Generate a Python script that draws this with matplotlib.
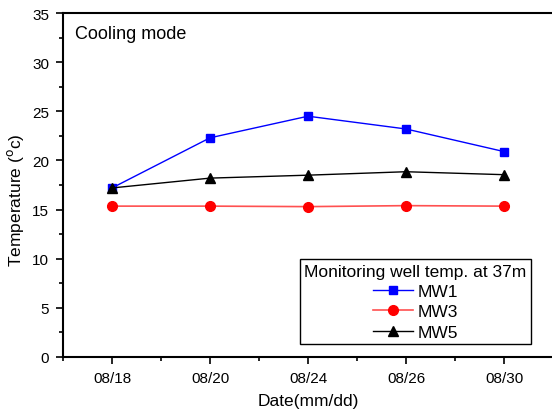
import matplotlib
matplotlib.use("Agg")
import matplotlib.pyplot as plt
from matplotlib.ticker import MultipleLocator

plt.rcParams['font.family'] = ['Liberation Sans', 'DejaVu Sans']

dates = ["08/18", "08/20", "08/24", "08/26", "08/30"]
mw1 = [17.2, 22.3, 24.5, 23.2, 20.9]
mw3 = [15.35, 15.35, 15.3, 15.4, 15.35]
mw5 = [17.2, 18.2, 18.5, 18.85, 18.55]

fig = plt.figure(figsize=(5.52, 4.14), dpi=100)
ax = fig.add_axes([63/552, 56/414, 490/552, 344/414])
x = list(range(len(dates)))
ax.plot(x, mw1, color='#0000ff', lw=1, marker='s', ms=6, label='MW1')
ax.plot(x, mw3, color='#ff5050', lw=1.2, marker='o', ms=7, mfc='#ff0000', mec='#ff0000', label='MW3')
ax.plot(x, mw5, color='black', lw=1, marker='^', ms=7, label='MW5')

ax.set_xlim(-0.5, 4.5)
ax.set_ylim(0, 35)
ax.set_xticks(x)
ax.set_xticklabels(dates)
ax.xaxis.set_minor_locator(MultipleLocator(0.5))
ax.yaxis.set_major_locator(MultipleLocator(5))
ax.yaxis.set_minor_locator(MultipleLocator(2.5))
ax.tick_params(axis='both', which='major', direction='out', length=5, width=1.2, labelsize=11, pad=5)
ax.tick_params(axis='both', which='minor', direction='out', length=3, width=1.2)
for s in ['left', 'bottom', 'top']:
    ax.spines[s].set_linewidth(1.5)
ax.spines['right'].set_visible(False)

ax.set_xlabel('Date(mm/dd)', fontsize=12.5, labelpad=6)
ax.set_ylabel('Temperature ($^{\\rm o}$c)', fontsize=12.5)
ax.yaxis.set_label_coords(-0.075, 0.46)
ax.text(0.025, 0.965, 'Cooling mode', transform=ax.transAxes, fontsize=13, va='top', ha='left')

leg = ax.legend(title='Monitoring well temp. at 37m', loc='lower right',
                bbox_to_anchor=(0.955, 0.038), fontsize=12.5, title_fontsize=12.5,
                fancybox=False, edgecolor='black', framealpha=1,
                borderpad=0.25, labelspacing=0.3, handlelength=2.3,
                handletextpad=0.3, borderaxespad=0)
leg.get_frame().set_linewidth(1)
leg._legend_box.align = 'center'

fig.savefig('out.png', dpi=100)
